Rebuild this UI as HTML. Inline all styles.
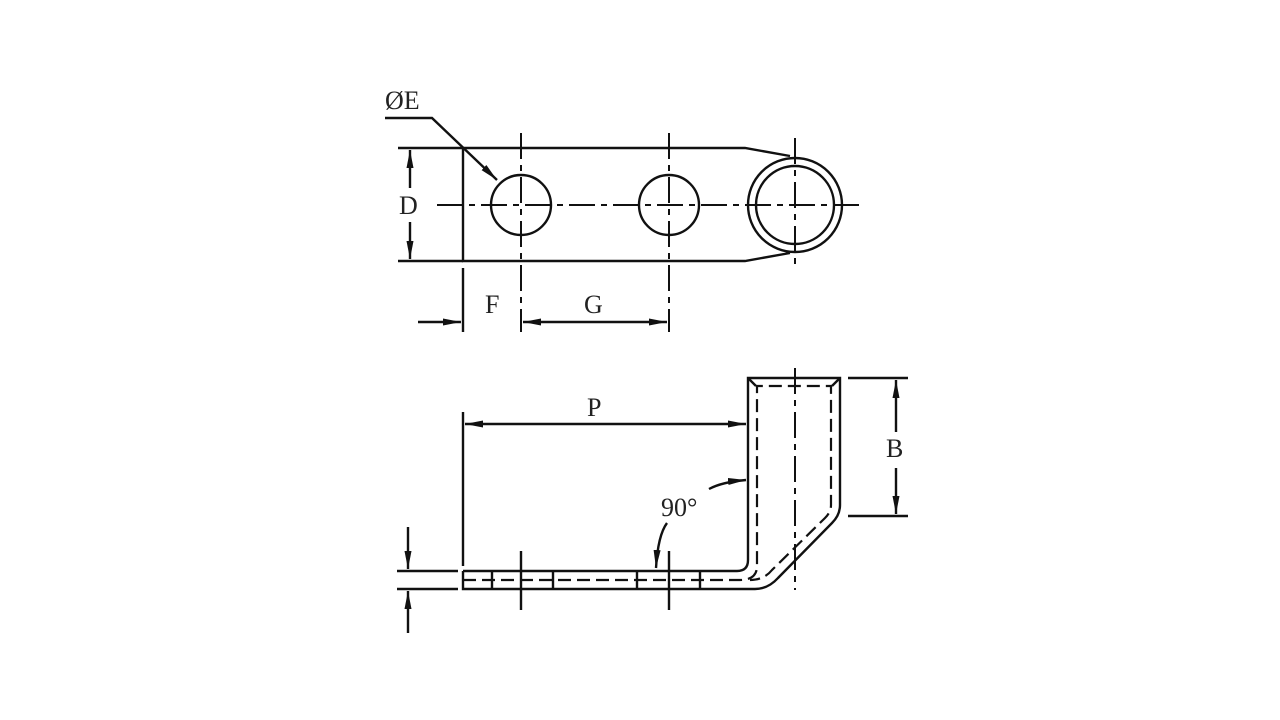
<!DOCTYPE html>
<html><head><style>html,body{margin:0;background:#fff}svg{display:block}</style></head><body>
<svg width="1280" height="720" viewBox="0 0 1280 720" xmlns="http://www.w3.org/2000/svg">
<defs>
<marker id="b" viewBox="0 0 18 7" refX="18" refY="3.5" markerWidth="18" markerHeight="7" markerUnits="userSpaceOnUse" orient="auto"><path d="M0,0L18,3.5L0,7z" fill="#111"/></marker></defs>
<g stroke="#111" stroke-width="2.4" fill="none">
<!-- top view -->
<path d="M463,148H745L790,156M463,148V261H745L790,253"/>
<circle cx="521" cy="205" r="30"/><circle cx="669" cy="205" r="30"/>
<circle cx="795" cy="205" r="47"/><circle cx="795" cy="205" r="39"/>
<path d="M398,148H463M398,261H463"/>
<path d="M410,188V150" marker-end="url(#b)"/><path d="M410,222V259" marker-end="url(#b)"/>
<g stroke-width="2" stroke-dasharray="26,6,6,6"><path d="M437,205H860"/><path d="M521,133V332M669,133V332M795,138V270"/></g>
<path d="M463,268V332"/>
<path d="M418,322H461" marker-end="url(#b)"/>
<path d="M595,322H523" marker-end="url(#b)"/><path d="M595,322H667" marker-end="url(#b)"/>
<path d="M385,118H432L497,180" marker-end="url(#b)"/>
<!-- side view -->
<path d="M463,571H737Q748,571 748,560V378H840V505Q840,515 832,523L778,578Q768,589 755,589H463V571"/>
<path d="M748,378L756,386M840,378L832,386"/>
<g stroke-width="2.2" stroke-dasharray="13,6"><path d="M463,580H740Q757,580 757,566V386H831V505Q831,512 825,518L772,570Q764,580 750,580"/></g>
<g stroke-width="2" stroke-dasharray="26,6,6,6"><path d="M795,368V590"/></g>
<path d="M492,571V589M553,571V589M637,571V589M700,571V589M521,551V610M669,551V610"/>
<path d="M463,412V566"/>
<path d="M600,424H465" marker-end="url(#b)"/><path d="M600,424H746" marker-end="url(#b)"/>
<path d="M848,378H908M848,516H908"/>
<path d="M896,432V380" marker-end="url(#b)"/><path d="M896,468V514" marker-end="url(#b)"/>
<path d="M397,571H458M397,589H458"/>
<path d="M408,527V569" marker-end="url(#b)"/><path d="M408,633V591" marker-end="url(#b)"/>
<path d="M709,489Q722,482 746,480" marker-end="url(#b)"/>
<path d="M667,523Q658,535 656,568" marker-end="url(#b)"/>
</g>
<g font-family="Liberation Serif, serif" font-size="26" fill="#222">
<text x="385" y="109">ØE</text>
<text x="399" y="214">D</text>
<text x="485" y="313">F</text>
<text x="584" y="313">G</text>
<text x="587" y="416">P</text>
<text x="886" y="457">B</text>
<text x="661" y="516">90°</text>
</g>
</svg>
</body></html>
